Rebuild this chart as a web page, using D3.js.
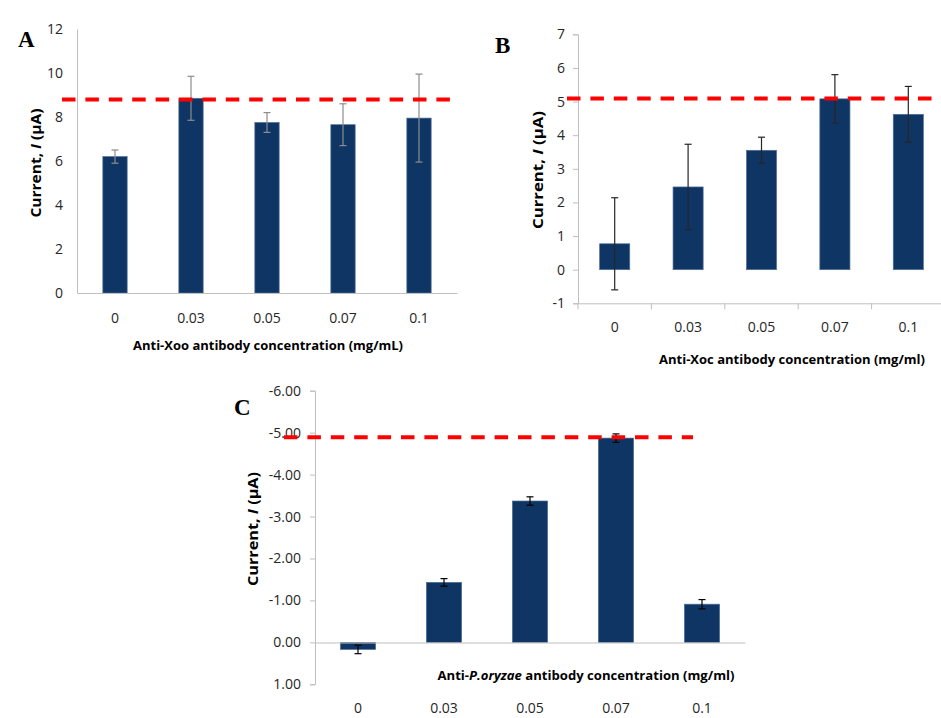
<!DOCTYPE html>
<html>
<head>
<meta charset="utf-8">
<script src="https://cdn.jsdelivr.net/npm/d3@7"></script>
<style>
  body { margin: 0; background: #fff; }
  text { font-family: "Open Sans", "Noto Sans", sans-serif; }
</style>
</head>
<body>
<script>
// antibody concentrations (same for all three panels)
var concentrations = ["0", "0.03", "0.05", "0.07", "0.1"];

// panel A - Anti-Xoo
var xooCurrent = [6.2, 8.85, 7.75, 7.65, 7.95];
var xooError = [0.3, 1.0, 0.45, 0.95, 2.0];
var xooTicks = [0, 2, 4, 6, 8, 10, 12];
var xooLevel = 8.8;

// panel B - Anti-Xoc
var xocCurrent = [0.77, 2.46, 3.55, 5.08, 4.62];
var xocError = [1.37, 1.27, 0.39, 0.72, 0.83];
var xocTicks = [-1, 0, 1, 2, 3, 4, 5, 6, 7];
var xocLevel = 5.09;

// panel C - Anti-P.oryzae
var oryzaeCurrent = [0.17, -1.43, -3.37, -4.87, -0.91];
var oryzaeError = [0.1, 0.09, 0.1, 0.1, 0.11];
var oryzaeTicks = [-6, -5, -4, -3, -2, -1, 0, 1];
var oryzaeLevel = -4.89;

var barColor = "#0f3564";

var svg = d3.select("body").append("svg")
    .attr("width", 941)
    .attr("height", 718);

svg.append("rect").attr("width", 941).attr("height", 718).attr("fill", "#fff");

function drawPanel(p) {
  var g = svg.append("g");

  var x = d3.scaleBand().domain(concentrations).range(p.xRange);
  var y = d3.scaleLinear().domain(p.yDomain).range(p.yRange);
  var bw = x.bandwidth() * p.barFrac;
  var data = concentrations.map(function(c, i) {
    return {c: c, v: p.values[i], e: p.errors[i]};
  });
  var zero = y(0);

  // y axis
  var yAxis = g.append("g")
      .attr("transform", "translate(" + p.xRange[0] + ",0)")
      .call(d3.axisLeft(y).tickValues(p.ticks).tickSizeOuter(0)
        .tickSize(p.yTickSize).tickPadding(p.yTickPad)
        .tickFormat(p.fmt));
  yAxis.select(".domain").attr("stroke", "#bfbfbf");
  yAxis.selectAll(".tick line").attr("stroke", "#bfbfbf");
  yAxis.selectAll("text").attr("font-size", 14).attr("fill", "#262626");

  // bars
  g.selectAll(".bar").data(data).enter().append("rect")
      .attr("x", function(d) { return x(d.c) + x.bandwidth() / 2 - bw / 2; })
      .attr("width", bw)
      .attr("y", function(d) { return Math.min(y(d.v), zero); })
      .attr("height", function(d) { return Math.abs(y(d.v) - zero); })
      .attr("fill", barColor)
      .attr("stroke", "#4f6f97")
      .attr("stroke-width", 0.7);

  // x axis (labels)
  var xAxis = g.append("g")
      .attr("transform", "translate(0," + p.xAxisAt + ")")
      .call(d3.axisBottom(x).tickSize(0).tickSizeOuter(0).tickPadding(p.xLabelPad));
  xAxis.select(".domain").attr("stroke", "#bfbfbf");
  xAxis.selectAll("text").attr("font-size", 14).attr("fill", "#262626");

  // tick marks between categories
  if (p.bandTicks) {
    var bounds = concentrations.map(function(c) { return x(c); }).concat([p.xRange[1]]);
    g.selectAll(".btick").data(bounds).enter().append("line")
        .attr("x1", function(d) { return d; }).attr("x2", function(d) { return d; })
        .attr("y1", p.xAxisAt).attr("y2", p.xAxisAt + 6)
        .attr("stroke", "#bfbfbf");
  }

  // error bars
  var eb = g.selectAll(".err").data(data).enter().append("g")
      .attr("stroke", p.errColor).attr("stroke-width", 1.2);
  var cx = function(d) { return x(d.c) + x.bandwidth() / 2; };
  eb.append("line")
      .attr("x1", cx).attr("x2", cx)
      .attr("y1", function(d) { return y(d.v - d.e); })
      .attr("y2", function(d) { return y(d.v + d.e); });
  eb.append("line")
      .attr("x1", function(d) { return cx(d) - 3.5; }).attr("x2", function(d) { return cx(d) + 3.5; })
      .attr("y1", function(d) { return y(d.v + d.e); }).attr("y2", function(d) { return y(d.v + d.e); });
  eb.append("line")
      .attr("x1", function(d) { return cx(d) - 3.5; }).attr("x2", function(d) { return cx(d) + 3.5; })
      .attr("y1", function(d) { return y(d.v - d.e); }).attr("y2", function(d) { return y(d.v - d.e); });

  // red dashed reference level
  g.append("line")
      .attr("x1", p.lineX[0]).attr("x2", p.lineX[1])
      .attr("y1", y(p.level)).attr("y2", y(p.level))
      .attr("stroke", "#ff0000").attr("stroke-width", 4)
      .attr("stroke-dasharray", "13.5,9.9");

  // y axis title
  var yt = g.append("text")
      .attr("transform", "translate(" + p.yTitle[0] + "," + p.yTitle[1] + ") rotate(-90)")
      .attr("text-anchor", "middle")
      .attr("dy", "0.35em")
      .attr("font-size", 14).attr("font-weight", "bold")
      .attr("textLength", p.yTitle[2]).attr("lengthAdjust", "spacingAndGlyphs");
  yt.append("tspan").text("Current, ");
  yt.append("tspan").attr("font-style", "italic").text("I");
  yt.append("tspan").text(" (μA)");

  // x axis title
  var xt = g.append("text")
      .attr("x", p.xTitle[0]).attr("y", p.xTitle[1])
      .attr("text-anchor", "middle")
      .attr("font-size", 12.5).attr("font-weight", "bold")
      .attr("textLength", p.xTitle[2]).attr("lengthAdjust", "spacingAndGlyphs");
  p.xTitleParts.forEach(function(t) {
    xt.append("tspan").attr("font-style", t[1] ? "italic" : "normal").text(t[0]);
  });

  // panel letter
  g.append("text")
      .attr("x", p.letter[0]).attr("y", p.letter[1])
      .style("font-family", "'Liberation Serif', 'DejaVu Serif', serif")
      .attr("font-weight", "bold").attr("font-size", 23)
      .text(p.letter[2]);
}

drawPanel({
  values: xooCurrent, errors: xooError, ticks: xooTicks, level: xooLevel,
  xRange: [77, 457], yDomain: [0, 12], yRange: [293, 29],
  barFrac: 0.32, xAxisAt: 293, xLabelPad: 20,
  yTickSize: 0, yTickPad: 14, fmt: function(d) { return String(d); },
  bandTicks: false, errColor: "#8c8c8c",
  lineX: [62, 456],
  yTitle: [36, 163, 109],
  xTitle: [268, 350, 270],
  xTitleParts: [["Anti-Xoo antibody concentration (mg/mL)", false]],
  letter: [18, 47, "A"]
});

drawPanel({
  values: xocCurrent, errors: xocError, ticks: xocTicks, level: xocLevel,
  xRange: [578, 945], yDomain: [-1, 7], yRange: [303.3, 34.3],
  barFrac: 0.41, xAxisAt: 303.3, xLabelPad: 19,
  yTickSize: 5, yTickPad: 8, fmt: function(d) { return String(d); },
  bandTicks: true, errColor: "#262626",
  lineX: [567, 941],
  yTitle: [538, 170, 118],
  xTitle: [792, 364, 266],
  xTitleParts: [["Anti-Xoc antibody concentration (mg/ml)", false]],
  letter: [495, 53, "B"]
});

drawPanel({
  values: oryzaeCurrent, errors: oryzaeError, ticks: oryzaeTicks, level: oryzaeLevel,
  xRange: [315, 745], yDomain: [-6, 1], yRange: [390.7, 684.3],
  barFrac: 0.41, xAxisAt: 642.5, xLabelPad: 61,
  yTickSize: 5, yTickPad: 9, fmt: function(d) { return d.toFixed(2); },
  bandTicks: false, errColor: "#000",
  lineX: [284, 693],
  yTitle: [253, 529, 114],
  xTitle: [586, 680, 297],
  xTitleParts: [["Anti-", false], ["P.oryzae", true], [" antibody concentration (mg/ml)", false]],
  letter: [234, 415, "C"]
});
</script>
</body>
</html>
